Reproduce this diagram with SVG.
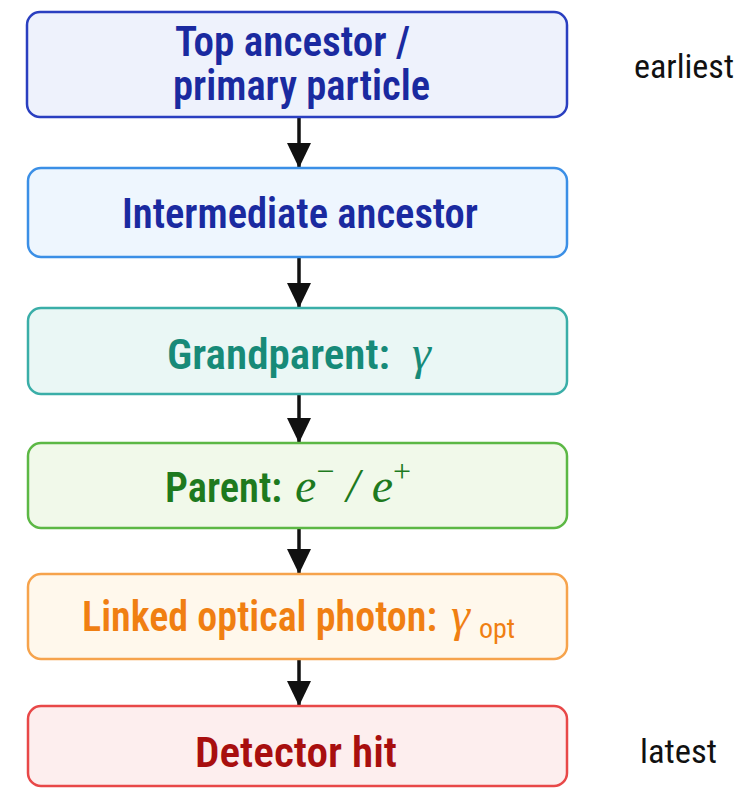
<svg xmlns="http://www.w3.org/2000/svg" width="745" height="788" viewBox="0 0 745 788">
<defs>
<marker id="ah" markerWidth="25" markerHeight="24" refX="25" refY="12" orient="auto" markerUnits="userSpaceOnUse" viewBox="0 0 25 24">
<path d="M0,0 L25,12 L0,24 z" fill="#111"/>
</marker>
<style>
.box{stroke-width:2.5}
.lbl{font-family:"Roboto Condensed","Roboto","DejaVu Sans Condensed",sans-serif;font-weight:600;font-stretch:condensed;font-size:43px}
.math{font-family:"Liberation Serif","DejaVu Serif",serif;font-style:italic;font-weight:normal;font-size:48px}
.sub{font-family:"Roboto Condensed","Roboto","DejaVu Sans Condensed",sans-serif;font-style:normal;font-weight:normal;font-size:28px}
.side{font-family:"Roboto Condensed","Roboto","DejaVu Sans Condensed",sans-serif;font-stretch:condensed;font-size:34px;fill:#111}
.conn{stroke:#111;stroke-width:3.5;fill:none}
</style>
</defs>
<rect width="745" height="788" fill="#ffffff"/>
<g id="connectors">
<line class="conn" x1="299" y1="118" x2="299" y2="168" marker-end="url(#ah)"/>
<line class="conn" x1="299" y1="258" x2="299" y2="308" marker-end="url(#ah)"/>
<line class="conn" x1="299" y1="395" x2="299" y2="443" marker-end="url(#ah)"/>
<line class="conn" x1="299" y1="529" x2="299" y2="574" marker-end="url(#ah)"/>
<line class="conn" x1="299" y1="660" x2="299" y2="706" marker-end="url(#ah)"/>
</g>
<g id="node-top">
<rect class="box" x="27" y="12" width="540" height="105" rx="13" fill="#eef2fc" stroke="#2a3fc0"/>
<text class="lbl" fill="#1a2aa0" font-size="39"><tspan x="175" y="56" textLength="235" lengthAdjust="spacingAndGlyphs">Top ancestor /</tspan><tspan x="173" y="100" textLength="257" lengthAdjust="spacingAndGlyphs">primary particle</tspan></text>
</g>
<g id="node-intermediate">
<rect class="box" x="28" y="168" width="539" height="89" rx="13" fill="#eef6fe" stroke="#3b8fe6"/>
<text class="lbl" fill="#1a2aa0" x="122" y="228" textLength="356" lengthAdjust="spacingAndGlyphs">Intermediate ancestor</text>
</g>
<g id="node-grandparent">
<rect class="box" x="28" y="308" width="539" height="86" rx="13" fill="#eaf7f5" stroke="#3aaea8"/>
<text class="lbl" fill="#178a78" x="167" y="369" textLength="223" lengthAdjust="spacingAndGlyphs">Grandparent:</text>
<text class="math" fill="#178a78" x="412" y="369">γ</text>
</g>
<g id="node-parent">
<rect class="box" x="28" y="443" width="539" height="85" rx="13" fill="#f1f9ea" stroke="#5cb845"/>
<text class="lbl" fill="#1e7a1e" x="165" y="502" textLength="117" lengthAdjust="spacingAndGlyphs">Parent:</text>
<text class="math" fill="#1e7a1e" x="295" y="502">e<tspan font-size="32" dy="-20" font-style="normal">−</tspan><tspan dy="20"> / e</tspan><tspan font-size="32" dy="-20" font-style="normal">+</tspan></text>
</g>
<g id="node-photon">
<rect class="box" x="28" y="574" width="539" height="85" rx="13" fill="#fff8ec" stroke="#f6a34c"/>
<text class="lbl" fill="#f07f12" x="82" y="631" textLength="355" lengthAdjust="spacingAndGlyphs">Linked optical photon:</text>
<text class="math" fill="#f07f12" x="451" y="631">γ<tspan class="sub" x="479" y="638">opt</tspan></text>
</g>
<g id="node-hit">
<rect class="box" x="28" y="706" width="539" height="80" rx="13" fill="#fdeeee" stroke="#e84848"/>
<text class="lbl" fill="#a80f0f" x="195" y="767" textLength="202" lengthAdjust="spacingAndGlyphs">Detector hit</text>
</g>
<g id="labels">
<text class="side" x="634" y="78" textLength="100" lengthAdjust="spacingAndGlyphs">earliest</text>
<text class="side" x="640" y="763" textLength="77" lengthAdjust="spacingAndGlyphs">latest</text>
</g>
</svg>
